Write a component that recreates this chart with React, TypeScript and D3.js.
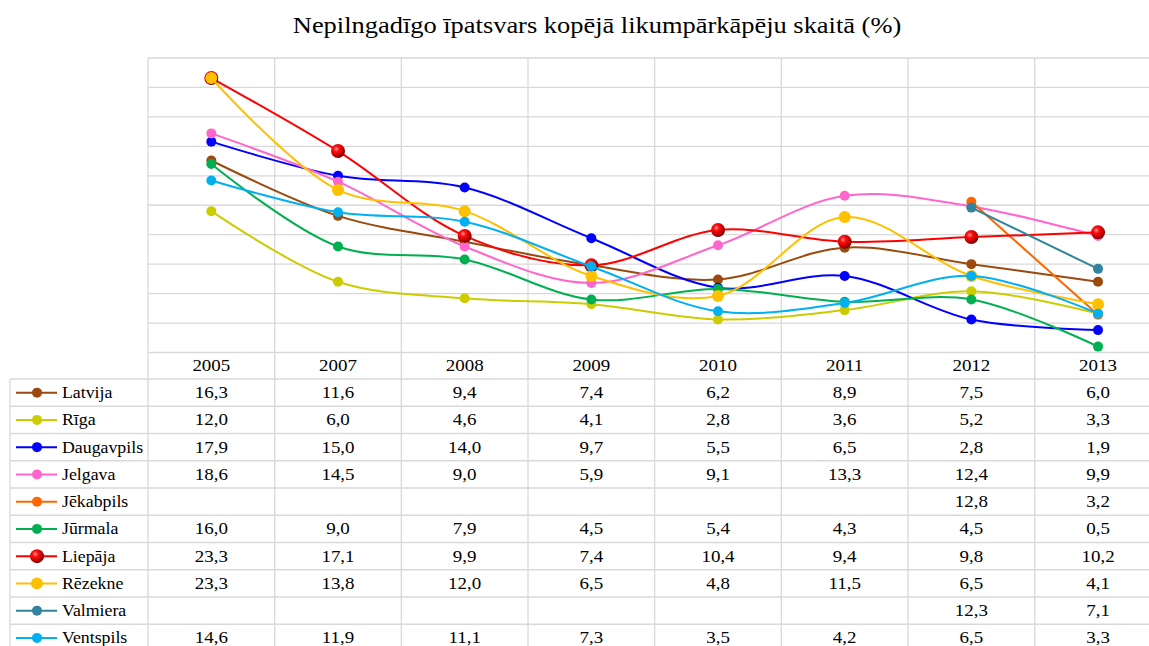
import * as d3 from 'd3'

const years = ['2005', '2007', '2008', '2009', '2010', '2011', '2012', '2013']

const cities = ['Latvija', 'Rīga', 'Daugavpils', 'Jelgava', 'Jēkabpils', 'Jūrmala', 'Liepāja', 'Rēzekne', 'Valmiera', 'Ventspils']
const colors = ['#9a4a0e', '#cccc00', '#0000ff', '#ff66cc', '#ff6600', '#00b050', '#ff0000', '#ffc000', '#31849b', '#00b0f0']

const latvija = [16.3, 11.6, 9.4, 7.4, 6.2, 8.9, 7.5, 6.0]
const riga = [12.0, 6.0, 4.6, 4.1, 2.8, 3.6, 5.2, 3.3]
const daugavpils = [17.9, 15.0, 14.0, 9.7, 5.5, 6.5, 2.8, 1.9]
const jelgava = [18.6, 14.5, 9.0, 5.9, 9.1, 13.3, 12.4, 9.9]
const jekabpils = [null, null, null, null, null, null, 12.8, 3.2]
const jurmala = [16.0, 9.0, 7.9, 4.5, 5.4, 4.3, 4.5, 0.5]
const liepaja = [23.3, 17.1, 9.9, 7.4, 10.4, 9.4, 9.8, 10.2]
const rezekne = [23.3, 13.8, 12.0, 6.5, 4.8, 11.5, 6.5, 4.1]
const valmiera = [null, null, null, null, null, null, 12.3, 7.1]
const ventspils = [14.6, 11.9, 11.1, 7.3, 3.5, 4.2, 6.5, 3.3]

const values: (number | null)[][] = [latvija, riga, daugavpils, jelgava, jekabpils, jurmala, liepaja, rezekne, valmiera, ventspils]

const yTicks = d3.range(0, 25.01, 2.5)

const W = 1149
const H = 646
const FONT = '"Liberation Serif", "Times New Roman", serif'
const GRID = '#d9d9d9'

// text a little wider than the font draws it, like the original
function Txt({ x, y, size, sx, anchor, children }: { x: number; y: number; size: number; sx: number; anchor?: string; children: any }) {
  return (
    <text transform={`translate(${x},${y}) scale(${sx},1)`} fontSize={size} textAnchor={anchor || 'start'} fill="#000">
      {children}
    </text>
  )
}

export default function App() {
  const colW = 126.67
  const left = 148
  const x = d3.scaleBand<string>().domain(years).range([left, left + colW * years.length]).padding(0)
  const cx = (yr: string) => x(yr)! + x.bandwidth() / 2
  const y = d3.scaleLinear().domain([0, 25]).range([352.5, 58])

  const tableTop = 379
  const rowH = 27.25
  const tableLeft = 10

  const line = d3
    .line<{ yr: string; v: number }>()
    .x(d => cx(d.yr))
    .y(d => y(d.v))
    .curve(d3.curveCatmullRom.alpha(0.5))

  const fmt = (v: number) => v.toFixed(1).replace('.', ',')

  const marker = (i: number, px: number, py: number, key: string) => {
    if (cities[i] === 'Liepāja') {
      return <circle key={key} cx={px} cy={py} r={7} fill="url(#sphere)" />
    }
    const r = cities[i] === 'Rēzekne' ? 6 : 5
    return <circle key={key} cx={px} cy={py} r={r} fill={colors[i]} />
  }

  const right = W

  return (
    <svg width={W} height={H} style={{ position: 'absolute', left: 0, top: 0, background: '#fff' }} fontFamily={FONT}>
      <defs>
        <radialGradient id="sphere" cx="38%" cy="35%" r="65%">
          <stop offset="0%" stopColor="#ff9a9a" />
          <stop offset="30%" stopColor="#ff1010" />
          <stop offset="75%" stopColor="#c00000" />
          <stop offset="100%" stopColor="#6e0000" />
        </radialGradient>
      </defs>

      <Txt x={597} y={33} size={23} sx={1.15} anchor="middle">
        Nepilngadīgo īpatsvars kopējā likumpārkāpēju skaitā (%)
      </Txt>

      {/* horizontal grid */}
      {yTicks.map(t => (
        <line key={t} x1={left} x2={right} y1={y(t)} y2={y(t)} stroke={GRID} strokeWidth={1.3} />
      ))}
      {/* vertical grid through plot and table */}
      {d3.range(years.length + 1).map(k => (
        <line key={k} x1={left + k * colW} x2={left + k * colW} y1={58} y2={H} stroke={GRID} strokeWidth={1.3} />
      ))}
      {/* table rows */}
      {d3.range(cities.length + 1).map(k => (
        <line key={k} x1={tableLeft} x2={right} y1={tableTop + k * rowH} y2={tableTop + k * rowH} stroke={GRID} strokeWidth={1.3} />
      ))}
      <line x1={tableLeft} x2={tableLeft} y1={tableTop} y2={H} stroke={GRID} strokeWidth={1.3} />

      {/* year labels */}
      {years.map(yr => (
        <Txt key={yr} x={cx(yr)} y={371} size={16.5} sx={1.15} anchor="middle">
          {yr}
        </Txt>
      ))}

      {/* series */}
      {values.map((vals, i) => {
        const pts = years
          .map((yr, j) => ({ yr, v: vals[j] }))
          .filter(d => d.v !== null) as { yr: string; v: number }[]
        return (
          <g key={cities[i]}>
            <path d={line(pts) || ''} fill="none" stroke={colors[i]} strokeWidth={2} />
            {pts.map(p => marker(i, cx(p.yr), y(p.v), p.yr))}
          </g>
        )
      })}

      {/* table */}
      {cities.map((c, i) => {
        const top = tableTop + i * rowH
        const mid = top + rowH / 2
        return (
          <g key={c}>
            <line x1={16} x2={57} y1={mid} y2={mid} stroke={colors[i]} strokeWidth={2} />
            {marker(i, 37, mid, 'lg')}
            <Txt x={62} y={top + 19} size={16.5} sx={1.08}>
              {c}
            </Txt>
            {values[i].map((v, j) =>
              v === null ? null : (
                <Txt key={j} x={cx(years[j])} y={top + 19} size={16.5} sx={1.15} anchor="middle">
                  {fmt(v)}
                </Txt>
              )
            )}
          </g>
        )
      })}
    </svg>
  )
}
